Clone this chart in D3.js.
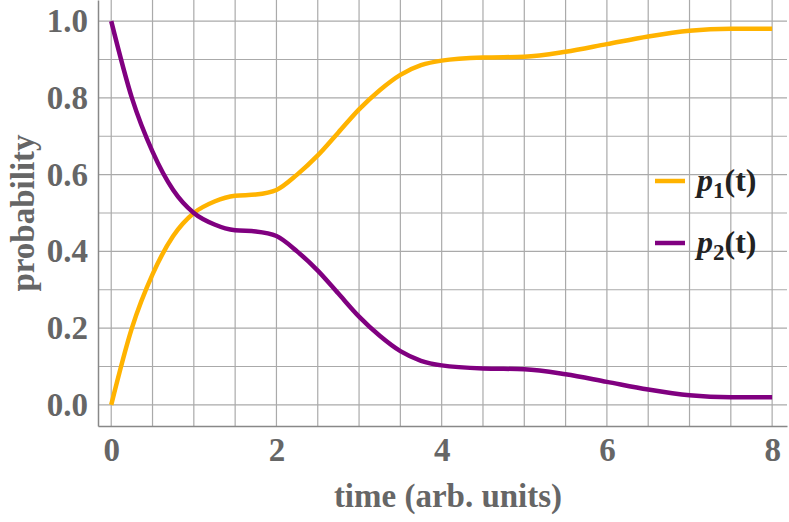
<!DOCTYPE html>
<html><head><meta charset="utf-8">
<script src="https://cdn.jsdelivr.net/npm/d3@7"></script>
<style>body{margin:0;background:#fff}text{font-family:"Liberation Serif",serif;font-weight:bold;fill:#666}</style>
</head><body><div id="chart"></div>
<script>
// time samples and the two probabilities
const times = [0,0.25,0.5,0.75,1,1.25,1.5,1.75,2,2.25,2.5,2.75,3,3.25,3.5,3.75,4,4.5,5,5.5,6,6.5,7,7.5,8];
const p1 = [0,0.2,0.34,0.44,0.5,0.53,0.545,0.548,0.56,0.6,0.65,0.71,0.77,0.82,0.86,0.885,0.897,0.905,0.907,0.92,0.94,0.96,0.975,0.98,0.98];
const p2 = [1,0.8,0.66,0.56,0.5,0.47,0.455,0.452,0.44,0.4,0.35,0.29,0.23,0.18,0.14,0.115,0.103,0.095,0.093,0.08,0.06,0.04,0.025,0.02,0.02];
const xTicks = [0,2,4,6,8];
const yTicks = [0,0.2,0.4,0.6,0.8,1.0];

const width = 789, height = 522;
const svg = d3.select("#chart").append("svg").attr("width", width).attr("height", height)
  .attr("font-family", "Liberation Serif");

const x = d3.scaleLinear().domain([-0.16, 8.18]).range([98, 787]);
const y = d3.scaleLinear().domain([-0.055, 1.055]).range([426, 0]);

// grid
svg.append("g").selectAll("line").data(d3.range(0, 8.01, 0.5)).join("line")
  .attr("x1", d => x(d)).attr("x2", d => x(d)).attr("y1", 0).attr("y2", 426)
  .attr("stroke", "#aaa").attr("stroke-width", 1.2);
svg.append("g").selectAll("line").data(d3.range(0, 10.1, 1).map(d => d / 10)).join("line")
  .attr("x1", 98).attr("x2", 787).attr("y1", d => y(d)).attr("y2", d => y(d))
  .attr("stroke", "#aaa").attr("stroke-width", 1.2);

// axes
const xAxis = svg.append("g").attr("transform", "translate(0,426)")
  .call(d3.axisBottom(x).tickValues(xTicks).tickFormat(d3.format("d")).tickSize(0).tickPadding(12));
const yAxis = svg.append("g").attr("transform", "translate(98,0)")
  .call(d3.axisLeft(y).tickValues(yTicks).tickFormat(d3.format(".1f")).tickSize(0).tickPadding(10));
[xAxis, yAxis].forEach(a => {
  a.attr("font-size", null).attr("font-family", null);
  a.select(".domain").attr("stroke", "#888").attr("stroke-width", 1.5);
  a.selectAll("text").style("font-size", "33px").attr("fill", "#666");
});

// labels
svg.append("text").attr("x", 448).attr("y", 507).attr("text-anchor", "middle")
  .style("font-size", "33px").text("time (arb. units)");
svg.append("text").attr("transform", "rotate(-90)").attr("x", -213).attr("y", 34)
  .attr("text-anchor", "middle").style("font-size", "33px").text("probability");

// curves
const line = vals => d3.line().x((d, i) => x(times[i])).y(d => y(d)).curve(d3.curveMonotoneX)(vals);
svg.append("path").attr("d", line(p1)).attr("fill", "none").attr("stroke", "#FFB300").attr("stroke-width", 4.5);
svg.append("path").attr("d", line(p2)).attr("fill", "none").attr("stroke", "#800080").attr("stroke-width", 4.5);

// legend
const legend = [{c: "#FFB300", s: "1", y: 181}, {c: "#800080", s: "2", y: 243}];
legend.forEach(l => {
  svg.append("line").attr("x1", 655).attr("x2", 685).attr("y1", l.y).attr("y2", l.y)
    .attr("stroke", l.c).attr("stroke-width", 4.5);
  const t = svg.append("text").attr("x", 697).attr("y", l.y + 10).style("font-size", "32px").style("fill", "#222");
  t.append("tspan").style("font-style", "italic").text("p");
  t.append("tspan").attr("dy", 7).style("font-size", "23px").text(l.s);
  t.append("tspan").attr("dy", -7).text("(t)");
});
</script></body></html>
